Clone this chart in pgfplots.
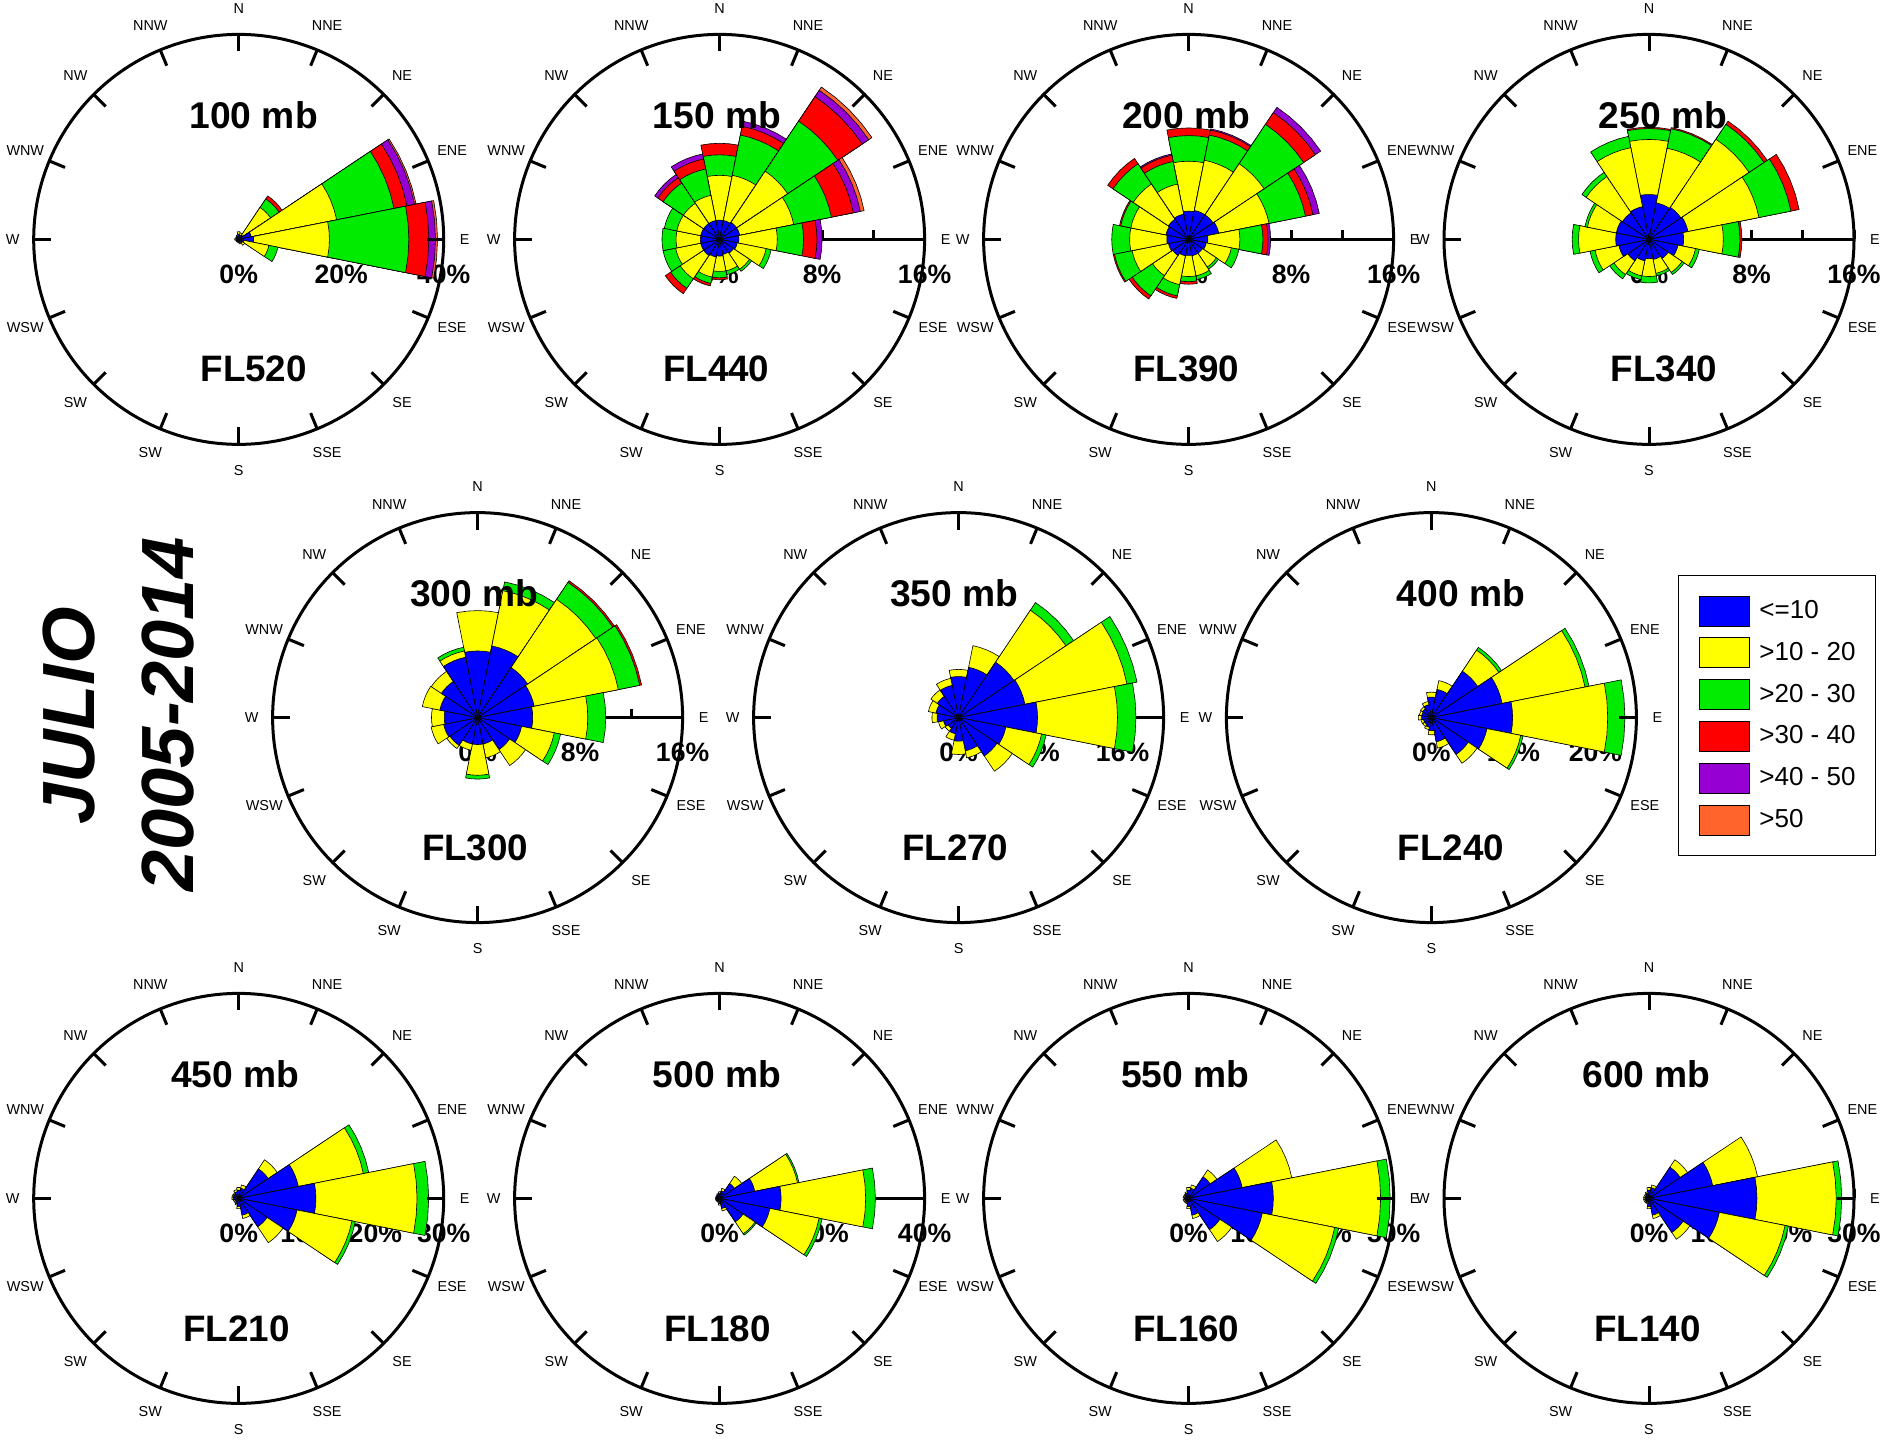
\documentclass[border=0pt]{standalone}
\usepackage{fontspec}
\setmainfont{Liberation Sans}
\usepackage{pgfplots}
\usepackage{pgfplotstable}
\pgfplotsset{compat=1.18}

\definecolor{wsA}{RGB}{0,0,255}
\definecolor{wsB}{RGB}{255,255,0}
\definecolor{wsC}{RGB}{0,235,0}
\definecolor{wsD}{RGB}{255,0,0}
\definecolor{wsE}{RGB}{150,0,210}
\definecolor{wsF}{RGB}{255,100,45}

\newcommand\titlefont{\fontsize{18.6}{20}\selectfont\bfseries}
\newcommand\flfont{\fontsize{18.4}{20}\selectfont\bfseries}
\newcommand\pctfont{\fontsize{13.3}{14}\selectfont\bfseries}
\newcommand\dirfont{\fontsize{7.2}{8}\selectfont}
\newcommand\legfont{\fontsize{13}{15}\selectfont}
\newcommand\juliofont{\fontsize{37}{40}\selectfont\bfseries\itshape}

% frequencies (%) per speed class, directions N..NNW clockwise
\pgfplotstableread{
d b1 b2 b3 b4 b5 b6
N   1.0 0.5 0 0 0 0
NNE 0.8 0.5 0 0 0 0
NE  1.0 6.5 2.0 0.7 0 0
ENE 2.5 17.0 11.4 2.6 1.5 0.3
E   2.9 14.8 15.5 3.9 1.3 0.4
ESE 1.0 5.0 1.8 0 0 0
SE  0.8 0.6 0 0 0 0
SSE 0.6 0.3 0 0 0 0
S   0.5 0.2 0 0 0 0
SSW 0.4 0.2 0 0 0 0
SW  0.4 0.2 0 0 0 0
WSW 0.4 0.2 0 0 0 0
W   0.5 0.3 0 0 0 0
WNW 0.4 0.2 0 0 0 0
NW  0.5 0.2 0 0 0 0
NNW 0.6 0.3 0 0 0 0
}\tA
\pgfplotstableread{
d b1 b2 b3 b4 b5 b6
N   1.5 3.5 1.6 0.9 0 0
NNE 1.5 3.6 3.2 0.7 0.4 0
NE  1.6 4.8 4.7 2.3 0.6 0.3
ENE 1.6 4.3 3.0 1.75 0.55 0.3
E   1.5 3.0 2.05 1.05 0.4 0
ESE 1.4 2.3 0.4 0 0 0
SE  1.3 1.5 0.2 0 0 0
SSE 1.2 1.3 0.3 0 0 0
S   1.3 1.2 0.5 0.15 0 0
SSW 1.4 1.6 0.5 0.2 0 0
SW  1.5 2.2 0.9 0.5 0 0
WSW 1.5 2.0 1.0 0 0 0
W   1.5 1.9 1.1 0 0 0
WNW 1.5 1.9 1.0 0 0 0
NW  1.5 1.9 1.9 0.5 0.3 0
NNW 1.5 2.0 2.1 0.8 0.4 0
}\tB
\pgfplotstableread{
d b1 b2 b3 b4 b5 b6
N   2.2 3.9 2.0 0.6 0 0
NNE 2.3 4.0 2.0 0.4 0.1 0
NE  2.3 4.8 3.7 1.1 0.5 0
ENE 2.4 4.0 2.9 0.6 0.5 0
E   1.5 2.5 1.8 0.4 0.2 0
ESE 1.4 2.0 0.6 0 0 0
SE  1.3 1.3 0.2 0 0 0
SSE 1.3 1.6 0.3 0 0 0
S   1.25 1.65 0.4 0.2 0 0
SSW 1.3 2.3 0.9 0.2 0 0
SW  1.5 1.9 1.9 0.3 0 0
WSW 1.6 2.9 1.4 0.1 0 0
W   1.7 2.9 1.4 0 0 0
WNW 1.8 2.8 0.8 0.1 0 0
NW  1.9 3.3 1.9 0.5 0 0
NNW 2.0 2.4 1.8 0.5 0.1 0
}\tC
\pgfplotstableread{
d b1 b2 b3 b4 b5 b6
N   3.5 4.3 0.85 0.1 0 0
NNE 2.9 4.35 1.55 0.1 0 0
NE  3.0 6.4 1.4 0.3 0 0
ENE 3.1 5.65 2.55 0.65 0 0
E   2.7 3.1 1.3 0.15 0 0
ESE 2.3 1.4 0.3 0 0 0
SE  1.8 1.3 0.2 0 0 0
SSE 1.6 1.1 0.2 0 0 0
S   1.5 1.4 0.5 0 0 0
SSW 1.7 1.2 0.3 0 0 0
SW  2.0 1.3 0.4 0 0 0
WSW 2.4 1.9 0.4 0 0 0
W   2.6 2.9 0.5 0 0 0
WNW 2.6 2.3 0.2 0 0 0
NW  2.5 3.4 0.4 0 0 0
NNW 2.6 4.7 0.9 0 0 0
}\tD
\pgfplotstableread{
d b1 b2 b3 b4 b5 b6
N   5.2 3.15 0 0 0 0
NNE 5.7 4.4 0.7 0 0 0
NE  4.7 6.4 1.6 0.15 0 0
ENE 4.5 6.7 1.7 0.15 0 0
E   4.3 4.3 1.4 0 0 0
ESE 3.5 2.6 0.5 0 0 0
SE  3.0 1.5 0 0 0 0
SSE 2.1 1.1 0 0 0 0
S   2.1 2.4 0.3 0 0 0
SSW 2.1 0.5 0 0 0 0
SW  2.6 0.3 0 0 0 0
WSW 2.7 1.0 0 0 0 0
W   2.6 1.0 0 0 0 0
WNW 3.0 1.4 0 0 0 0
NW  3.4 0.95 0 0 0 0
NNW 4.8 0.5 0.3 0 0 0
}\tE
\pgfplotstableread{
d b1 b2 b3 b4 b5 b6
N   4.0 0.7 0 0 0 0
NNE 5.0 2.15 0 0 0 0
NE  6.5 6.1 0.9 0 0 0
ENE 6.6 10.15 1.0 0 0 0
E   7.7 7.8 1.8 0 0 0
ESE 4.7 3.55 0.45 0 0 0
SE  4.5 1.8 0 0 0 0
SSE 3.3 0.7 0 0 0 0
S   2.3 1.3 0 0 0 0
SSW 1.6 0.65 0 0 0 0
SW  1.25 0.35 0 0 0 0
WSW 1.5 0.5 0 0 0 0
W   2.1 0.5 0 0 0 0
WNW 2.25 0.75 0 0 0 0
NW  2.5 0.75 0 0 0 0
NNW 3.2 0.7 0 0 0 0
}\tF
\pgfplotstableread{
d b1 b2 b3 b4 b5 b6
N   2.5 0.6 0 0 0 0
NNE 3.5 1.1 0 0 0 0
NE  6.8 3.1 0.4 0 0 0
ENE 8.8 10.3 0.5 0 0 0
E   9.9 11.6 2.1 0 0 0
ESE 6.9 4.2 0.3 0 0 0
SE  5.4 1.3 0 0 0 0
SSE 3.0 0.8 0 0 0 0
S   1.6 0.5 0 0 0 0
SSW 1.2 0.3 0 0 0 0
SW  1.0 0.3 0 0 0 0
WSW 1.0 0.3 0 0 0 0
W   1.2 0.4 0 0 0 0
WNW 1.2 0.3 0 0 0 0
NW  1.3 0.3 0 0 0 0
NNW 1.6 0.4 0 0 0 0
}\tG
\pgfplotstableread{
d b1 b2 b3 b4 b5 b6
N   1.2 0.4 0 0 0 0
NNE 1.5 0.5 0 0 0 0
NE  5.2 1.6 0 0 0 0
ENE 8.9 9.7 0.8 0 0 0
E   11.3 14.8 1.7 0 0 0
ESE 8.7 8.2 0.5 0 0 0
SE  5.0 2.8 0 0 0 0
SSE 2.5 0.5 0 0 0 0
S   1.2 0.3 0 0 0 0
SSW 0.8 0.2 0 0 0 0
SW  0.6 0.2 0 0 0 0
WSW 0.6 0.2 0 0 0 0
W   0.8 0.2 0 0 0 0
WNW 0.8 0.2 0 0 0 0
NW  0.8 0.2 0 0 0 0
NNW 1.0 0.3 0 0 0 0
}\tH
\pgfplotstableread{
d b1 b2 b3 b4 b5 b6
N   1.0 0.3 0 0 0 0
NNE 1.5 0.5 0 0 0 0
NE  3.5 1.7 0 0 0 0
ENE 7.0 8.5 0.3 0 0 0
E   12.0 16.5 1.9 0 0 0
ESE 10.0 9.8 0.6 0 0 0
SE  5.5 2.8 0.3 0 0 0
SSE 2.0 0.5 0 0 0 0
S   1.0 0.3 0 0 0 0
SSW 0.6 0.2 0 0 0 0
SW  0.6 0.2 0 0 0 0
WSW 0.6 0.2 0 0 0 0
W   0.6 0.2 0 0 0 0
WNW 0.6 0.2 0 0 0 0
NW  0.6 0.2 0 0 0 0
NNW 0.8 0.2 0 0 0 0
}\tI
\pgfplotstableread{
d b1 b2 b3 b4 b5 b6
N   1.2 0.4 0 0 0 0
NNE 1.5 0.5 0 0 0 0
NE  3.8 1.2 0 0 0 0
ENE 8.0 7.4 0 0 0 0
E   12.4 15.7 1.4 0 0 0
ESE 11.0 10.8 0.6 0 0 0
SE  5.5 2.1 0 0 0 0
SSE 2.5 0.5 0 0 0 0
S   1.2 0.3 0 0 0 0
SSW 0.6 0.2 0 0 0 0
SW  0.6 0.2 0 0 0 0
WSW 0.6 0.2 0 0 0 0
W   0.6 0.2 0 0 0 0
WNW 0.6 0.2 0 0 0 0
NW  0.6 0.2 0 0 0 0
NNW 0.8 0.2 0 0 0 0
}\tJ
\pgfplotstableread{
d b1 b2 b3 b4 b5 b6
N   1.2 0.4 0 0 0 0
NNE 1.6 0.4 0 0 0 0
NE  5.5 1.3 0 0 0 0
ENE 9.5 6.7 0 0 0 0
E   15.8 11.6 0.8 0 0 0
ESE 10.5 9.8 0.5 0 0 0
SE  6.0 1.2 0 0 0 0
SSE 2.5 0.5 0 0 0 0
S   1.2 0.3 0 0 0 0
SSW 0.6 0.2 0 0 0 0
SW  0.6 0.2 0 0 0 0
WSW 0.6 0.2 0 0 0 0
W   0.6 0.2 0 0 0 0
WNW 0.6 0.2 0 0 0 0
NW  0.6 0.2 0 0 0 0
NNW 0.8 0.2 0 0 0 0
}\tK

\newcommand\rosewedge[2]{%
  \edef\rosetmp{\noexpand\addplot[data cs=polar,fill=#2,draw=black,line width=0.3pt,line join=round]
    coordinates {(0,0) (\aA,#1) (\aB,#1) (\aC,#1) (\aD,#1) (\aE,#1) (0,0)};}%
  \rosetmp}

% #1 cx(pt) #2 cy(pt) #3 max % #4 table
\newcommand\rosebars[4]{%
\begin{axis}[at={({#1pt-102.5pt},{#2pt-102.5pt})},anchor=south west,
  width=205pt,height=205pt,scale only axis,
  xmin=-#3,xmax=#3,ymin=-#3,ymax=#3,axis lines=none,clip=false]
\pgfplotsforeachungrouped \rk in {0,...,15}{%
  \pgfplotstablegetelem{\rk}{b1}\of{#4}\edef\vA{\pgfplotsretval}%
  \pgfplotstablegetelem{\rk}{b2}\of{#4}\edef\vB{\pgfplotsretval}%
  \pgfplotstablegetelem{\rk}{b3}\of{#4}\edef\vC{\pgfplotsretval}%
  \pgfplotstablegetelem{\rk}{b4}\of{#4}\edef\vD{\pgfplotsretval}%
  \pgfplotstablegetelem{\rk}{b5}\of{#4}\edef\vE{\pgfplotsretval}%
  \pgfplotstablegetelem{\rk}{b6}\of{#4}\edef\vF{\pgfplotsretval}%
  \pgfmathsetmacro\cA{\vA}%
  \pgfmathsetmacro\cB{\cA+\vB}%
  \pgfmathsetmacro\cC{\cB+\vC}%
  \pgfmathsetmacro\cD{\cC+\vD}%
  \pgfmathsetmacro\cE{\cD+\vE}%
  \pgfmathsetmacro\cF{\cE+\vF}%
  \pgfmathsetmacro\aA{90-22.5*\rk+11.25}%
  \pgfmathsetmacro\aB{90-22.5*\rk+5.625}%
  \pgfmathsetmacro\aC{90-22.5*\rk}%
  \pgfmathsetmacro\aD{90-22.5*\rk-5.625}%
  \pgfmathsetmacro\aE{90-22.5*\rk-11.25}%
  \ifdim\vF pt>0pt \rosewedge{\cF}{wsF}\fi
  \ifdim\vE pt>0pt \rosewedge{\cE}{wsE}\fi
  \ifdim\vD pt>0pt \rosewedge{\cD}{wsD}\fi
  \ifdim\vC pt>0pt \rosewedge{\cC}{wsC}\fi
  \ifdim\vB pt>0pt \rosewedge{\cB}{wsB}\fi
  \rosewedge{\cA}{wsA}%
}
\end{axis}}

% radial scale: #1 cx #2 cy #3 max #4 tick list #5 label list
\newcommand\roseaxis[5]{%
\begin{scope}[shift={(#1pt,#2pt)}]
  \draw[line width=1.5pt] (0,0) -- (102.5pt,0);
  \foreach \tv in {#4} \draw[line width=1.5pt] ({\tv/#3*102.5pt},0) -- ++(0,4.5pt);
  \foreach \tv in {#5} \node[font=\pctfont,anchor=base,inner sep=0pt] at ({\tv/#3*102.5pt},-22.2pt) {\tv\%};
\end{scope}}

% frame: #1 cx #2 cy #3 title #4 title dx #5 FL #6 FL dx
\newcommand\rosedeco[6]{%
\begin{scope}[shift={(#1pt,#2pt)}]
  \draw[line width=1.5pt] (0,0) circle[radius=102.5pt];
  \foreach \a in {0,22.5,...,337.5} \draw[line width=1.5pt] (\a:102.5pt) -- (\a:94pt);
  \foreach \a/\dl/\rr in {90/N/115.5,67.5/NNE/115.5,45/NE/115.5,22.5/ENE/115.5,0/E/113,-22.5/ESE/115.5,-45/SE/115.5,-67.5/SSE/115.5,-90/S/115.5,-112.5/SW/115.5,-135/SW/115.5,-157.5/WSW/115.5,180/W/113,157.5/WNW/115.5,135/NW/115.5,112.5/NNW/115.5}
    \node[font=\dirfont,inner sep=0pt] at (\a:\rr pt) {\dl};
  \node[font=\titlefont,anchor=base,inner sep=0pt] at (#4pt,55.3pt) {#3};
  \node[font=\flfont,anchor=base,inner sep=0pt] at (#6pt,-71.3pt) {#5};
\end{scope}}

\begin{document}
\begin{tikzpicture}
\useasboundingbox (0,0) rectangle (941.5pt,720pt);
\clip (0,0) rectangle (941.5pt,720pt);

\node[rotate=90,font=\juliofont,inner sep=0pt] at (34.3pt,362pt) {JULIO};
\node[rotate=90,font=\juliofont,inner sep=0pt] at (84pt,362.7pt) {2005-2014};

% row 1
\roseaxis{119.35}{600.3}{40}{10,20,30,40}{0,20,40}
\rosebars{119.35}{600.3}{40}{\tA}
\rosedeco{119.35}{600.3}{100 mb}{7.5}{FL520}{7.5}

\roseaxis{359.8}{600.3}{16}{4,8,12,16}{0,8,16}
\rosebars{359.8}{600.3}{16}{\tB}
\rosedeco{359.8}{600.3}{150 mb}{-1.3}{FL440}{-1.7}

\roseaxis{594.3}{600.3}{16}{4,8,12,16}{0,8,16}
\rosebars{594.3}{600.3}{16}{\tC}
\rosedeco{594.3}{600.3}{200 mb}{-1.2}{FL390}{-1.2}

\roseaxis{824.5}{600.3}{16}{4,8,12,16}{0,8,16}
\rosebars{824.5}{600.3}{16}{\tD}
\rosedeco{824.5}{600.3}{250 mb}{7}{FL340}{7.5}

% row 2
\roseaxis{238.8}{361.2}{16}{4,8,12,16}{0,8,16}
\rosebars{238.8}{361.2}{16}{\tE}
\rosedeco{238.8}{361.2}{300 mb}{-1.7}{FL300}{-1.2}

\roseaxis{479.3}{361.2}{20}{4,8,12,16,20}{0,8,16}
\rosebars{479.3}{361.2}{20}{\tF}
\rosedeco{479.3}{361.2}{350 mb}{-2.2}{FL270}{-1.7}

\roseaxis{715.7}{361.2}{25}{5,10,15,20,25}{0,10,20}
\rosebars{715.7}{361.2}{25}{\tG}
\rosedeco{715.7}{361.2}{400 mb}{14.7}{FL240}{9.7}

% row 3
\roseaxis{119.35}{120.8}{30}{5,10,15,20,25,30}{0,10,20,30}
\rosebars{119.35}{120.8}{30}{\tH}
\rosedeco{119.35}{120.8}{450 mb}{-1.7}{FL210}{-1.2}

\roseaxis{359.8}{120.8}{40}{10,20,30,40}{0,20,40}
\rosebars{359.8}{120.8}{40}{\tI}
\rosedeco{359.8}{120.8}{500 mb}{-1.3}{FL180}{-1}

\roseaxis{594.3}{120.8}{30}{5,10,15,20,25,30}{0,10,20,30}
\rosebars{594.3}{120.8}{30}{\tJ}
\rosedeco{594.3}{120.8}{550 mb}{-1.7}{FL160}{-1.2}

\roseaxis{824.5}{120.8}{30}{5,10,15,20,25,30}{0,10,20,30}
\rosebars{824.5}{120.8}{30}{\tK}
\rosedeco{824.5}{120.8}{600 mb}{-1.3}{FL140}{-0.8}

% legend
\begin{axis}[at={(839pt,432.5pt)},anchor=north west,width=20pt,height=20pt,
  scale only axis,hide axis,xmin=0,xmax=1,ymin=0,ymax=1,
  legend style={at={(0,1)},anchor=north west,draw=black,line width=0.6pt,
    inner xsep=10pt,inner ysep=10pt,row sep=5.5pt,column sep=5pt,
    font=\legfont,nodes={inner sep=0pt}},
  legend cell align=left,
  legend image code/.code={\draw[#1,draw=black,line width=0.4pt] (0pt,-7.5pt) rectangle (25pt,7.5pt);}]
\addlegendimage{fill=wsA}\addlegendentry{<=10}
\addlegendimage{fill=wsB}\addlegendentry{>10 - 20}
\addlegendimage{fill=wsC}\addlegendentry{>20 - 30}
\addlegendimage{fill=wsD}\addlegendentry{>30 - 40}
\addlegendimage{fill=wsE}\addlegendentry{>40 - 50}
\addlegendimage{fill=wsF}\addlegendentry{>50}
\end{axis}
\end{tikzpicture}
\end{document}
